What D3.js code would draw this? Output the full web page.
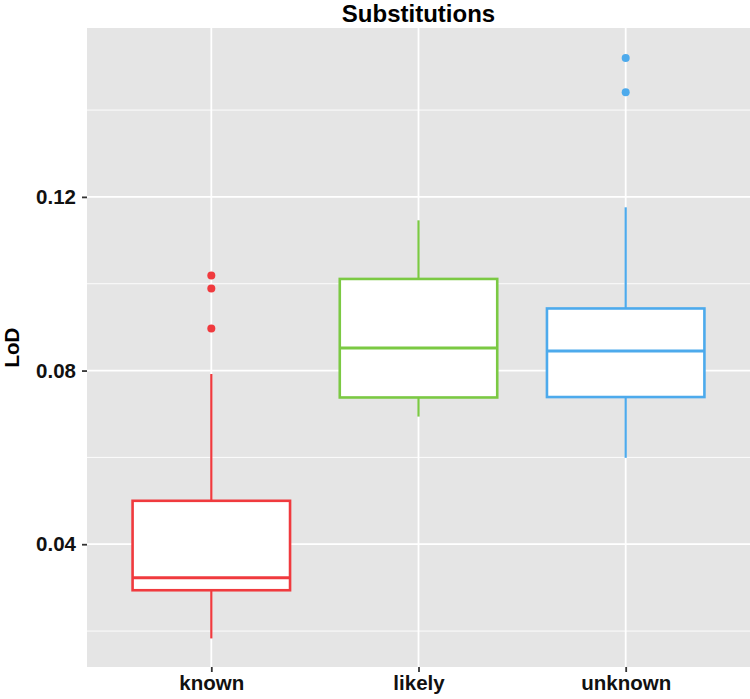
<!DOCTYPE html>
<html>
<head>
<meta charset="utf-8">
<script src="https://cdn.jsdelivr.net/npm/d3@7"></script>
<style>
  body { margin: 0; background: #fff; }
  text { font-family: "Liberation Sans", Arial, sans-serif; font-weight: bold; }
</style>
</head>
<body>
<svg id="chart" width="750" height="699"></svg>
<script>
'use strict';

// box stats
const categories = ["known", "likely", "unknown"];
const whiskerLow = [0.0183, 0.0694, 0.0599];
const q1 = [0.0294, 0.0738, 0.0739];
const median = [0.0323, 0.0852, 0.0845];
const q3 = [0.0500, 0.1011, 0.0943];
const whiskerHigh = [0.0792, 0.1146, 0.1176];
const outliers = [[0.1019, 0.0989, 0.0897], [], [0.1520, 0.1441]];
const colors = ["#F03A3E", "#7BC943", "#4DAAEC"];
const yTicks = [0.04, 0.08, 0.12];
const yMinor = [0.02, 0.06, 0.10, 0.14];

const svg = d3.select("#chart");
const margin = {top: 28, right: 0, bottom: 32, left: 87};
const width = 750, height = 699;

const x = d3.scalePoint()
    .domain(categories)
    .range([margin.left, width - margin.right])
    .padding(0.6);

const y = d3.scaleLinear()
    .domain([0.01172, 0.1589])
    .range([height - margin.bottom, margin.top]);

// panel
svg.append("rect")
    .attr("x", margin.left)
    .attr("y", margin.top)
    .attr("width", width - margin.right - margin.left)
    .attr("height", height - margin.bottom - margin.top)
    .attr("fill", "#E5E5E5");

const grid = svg.append("g");
grid.selectAll(".minor")
    .data(yMinor)
    .enter().append("line")
    .attr("x1", margin.left).attr("x2", width - margin.right)
    .attr("y1", d => y(d)).attr("y2", d => y(d))
    .attr("stroke", "#fff").attr("stroke-width", 0.9);

grid.selectAll(".major")
    .data(yTicks)
    .enter().append("line")
    .attr("x1", margin.left).attr("x2", width - margin.right)
    .attr("y1", d => y(d)).attr("y2", d => y(d))
    .attr("stroke", "#fff").attr("stroke-width", 1.8);

grid.selectAll(".vmajor")
    .data(categories)
    .enter().append("line")
    .attr("x1", d => x(d)).attr("x2", d => x(d))
    .attr("y1", margin.top).attr("y2", height - margin.bottom)
    .attr("stroke", "#fff").attr("stroke-width", 1.8);

// boxes
const boxW = x.step() * 0.76;
const boxes = svg.selectAll(".box")
    .data(categories)
    .enter().append("g");

boxes.append("line")
    .attr("x1", d => x(d)).attr("x2", d => x(d))
    .attr("y1", (d, i) => y(whiskerHigh[i])).attr("y2", (d, i) => y(q3[i]))
    .attr("stroke", (d, i) => colors[i]).attr("stroke-width", 2.2);

boxes.append("line")
    .attr("x1", d => x(d)).attr("x2", d => x(d))
    .attr("y1", (d, i) => y(q1[i])).attr("y2", (d, i) => y(whiskerLow[i]))
    .attr("stroke", (d, i) => colors[i]).attr("stroke-width", 2.2);

boxes.append("rect")
    .attr("x", d => x(d) - boxW / 2)
    .attr("width", boxW)
    .attr("y", (d, i) => y(q3[i]))
    .attr("height", (d, i) => y(q1[i]) - y(q3[i]))
    .attr("fill", "#fff")
    .attr("stroke", (d, i) => colors[i]).attr("stroke-width", 2.6);

boxes.append("line")
    .attr("x1", d => x(d) - boxW / 2).attr("x2", d => x(d) + boxW / 2)
    .attr("y1", (d, i) => y(median[i])).attr("y2", (d, i) => y(median[i]))
    .attr("stroke", (d, i) => colors[i]).attr("stroke-width", 3);

boxes.each(function (d, i) {
    d3.select(this).selectAll("circle")
        .data(outliers[i])
        .enter().append("circle")
        .attr("cx", x(d))
        .attr("cy", v => y(v))
        .attr("r", 4)
        .attr("fill", colors[i]);
});

// axes
const yAxis = svg.append("g")
    .attr("transform", "translate(" + margin.left + ",0)")
    .call(d3.axisLeft(y).tickValues(yTicks).tickFormat(d3.format(".2f")).tickSize(5).tickPadding(6));
yAxis.select(".domain").remove();
yAxis.selectAll("line").attr("stroke", "#333").attr("stroke-width", 1.8);
yAxis.selectAll("text").attr("font-size", 20.5).attr("fill", "#111");

const xAxis = svg.append("g")
    .attr("transform", "translate(0," + (height - margin.bottom) + ")")
    .call(d3.axisBottom(x).tickSize(5).tickPadding(3));
xAxis.select(".domain").remove();
xAxis.selectAll("line").attr("stroke", "#333").attr("stroke-width", 1.8);
xAxis.selectAll("text").attr("font-size", 20.5).attr("fill", "#111");

svg.append("text")
    .attr("x", (margin.left + width - margin.right) / 2)
    .attr("y", 22)
    .attr("text-anchor", "middle")
    .attr("font-size", 24)
    .text("Substitutions");

svg.append("text")
    .attr("transform", "translate(19," + ((margin.top + height - margin.bottom) / 2) + ") rotate(-90)")
    .attr("text-anchor", "middle")
    .attr("font-size", 20.5)
    .text("LoD");
</script>
</body>
</html>
